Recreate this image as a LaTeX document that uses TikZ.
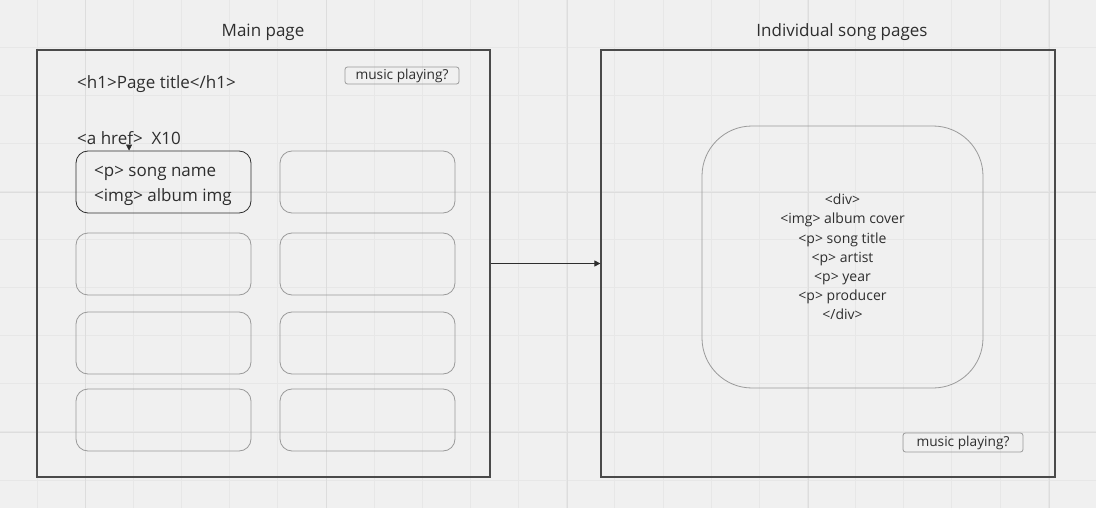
\documentclass[tikz,border=0pt]{standalone}
\usepackage{fontspec}
\setmainfont{Open Sans}
\usepackage{xcolor}
\usetikzlibrary{arrows.meta}
\definecolor{bgcol}{HTML}{F0F0F0}
\definecolor{gridminor}{HTML}{E7E7E7}
\definecolor{gridmajor}{HTML}{DDDDDD}
\definecolor{framecol}{HTML}{4A4A4A}
\definecolor{boxcol}{HTML}{9A9A9A}
\definecolor{inkcol}{HTML}{2E2E2E}

\begin{document}
\begin{tikzpicture}[
  x=1pt,y=-1pt,
  frame/.style={draw=framecol,line width=1.2pt,minimum width=453pt,minimum height=427pt,inner sep=0pt},
  songbox/.style={draw=boxcol,line width=0.8pt,rounded corners=12pt,minimum width=175pt,minimum height=62pt,inner sep=0pt},
  btn/.style={draw=boxcol,line width=0.8pt,rounded corners=2.5pt,inner sep=0pt,text=inkcol,font=\fontsize{13.7}{15}\selectfont},
  label/.style={inner sep=0pt,anchor=west,text=inkcol,font=\fontsize{17}{20}\selectfont},
  title/.style={inner sep=0pt,text=inkcol,font=\fontsize{17}{20}\selectfont},
  arr/.style={-{Triangle[length=6pt,width=6pt]},draw=inkcol,line width=0.8pt}
]
\useasboundingbox[fill=bgcol] (0,0) rectangle (1096,508);

\foreach \k in {0,...,22} \draw[gridminor,line width=0.8pt] (37+48.15*\k,0) -- (37+48.15*\k,508);
\foreach \k in {-1,0,...,9} \draw[gridminor,line width=0.8pt] (0,47+48.1*\k) -- (1096,47+48.1*\k);
\foreach \k in {0,...,4} \draw[gridmajor,line width=0.8pt] (85+241*\k,0) -- (85+241*\k,508);
\foreach \k in {192,432} \draw[gridmajor,line width=0.8pt] (0,\k) -- (1096,\k);

\node[title] (t1) at (263,32) {Main page};
\node[title] (t2) at (842,32) {Individual song pages};

\node[frame] (main) at (263.5,263.5) {};
\node[frame,minimum width=454pt] (song) at (828,263.5) {};

\node[label] (h1) at (77,84.5) {<h1>Page title</h1>};
\node[btn,minimum width=114pt,minimum height=17pt] (b1) at (402,75.5) {music playing?};
\node[label] (href) at (77,138.5) {<a href>\ \ X10};

\node[songbox,draw=inkcol] (s1) at (163.5,182) {};
\node[label,align=left,font=\fontsize{17}{25}\selectfont] (s1txt) at (94,185.5) {<p> song name\\<img> album img};
\node[songbox] (s2) at (367.5,182) {};
\node[songbox] (s3) at (163.5,264) {};
\node[songbox] (s4) at (367.5,264) {};
\node[songbox] (s5) at (163.5,343) {};
\node[songbox] (s6) at (367.5,343) {};
\node[songbox] (s7) at (163.5,420) {};
\node[songbox] (s8) at (367.5,420) {};

\node[songbox,rounded corners=50pt,minimum width=281pt,minimum height=262pt,align=center,text=inkcol,font=\fontsize{14}{19.2}\selectfont] (div) at (842.5,257) {<div>\\<img> album cover\\<p> song title\\<p> artist\\<p> year\\<p> producer\\</div>};
\node[btn,minimum width=120pt,minimum height=19pt] (b2) at (963,442.5) {music playing?};

\draw[arr] (href.south) -- (href.south |- s1.north);
\draw[arr] (main.east) -- (song.west);

\end{tikzpicture}
\end{document}
